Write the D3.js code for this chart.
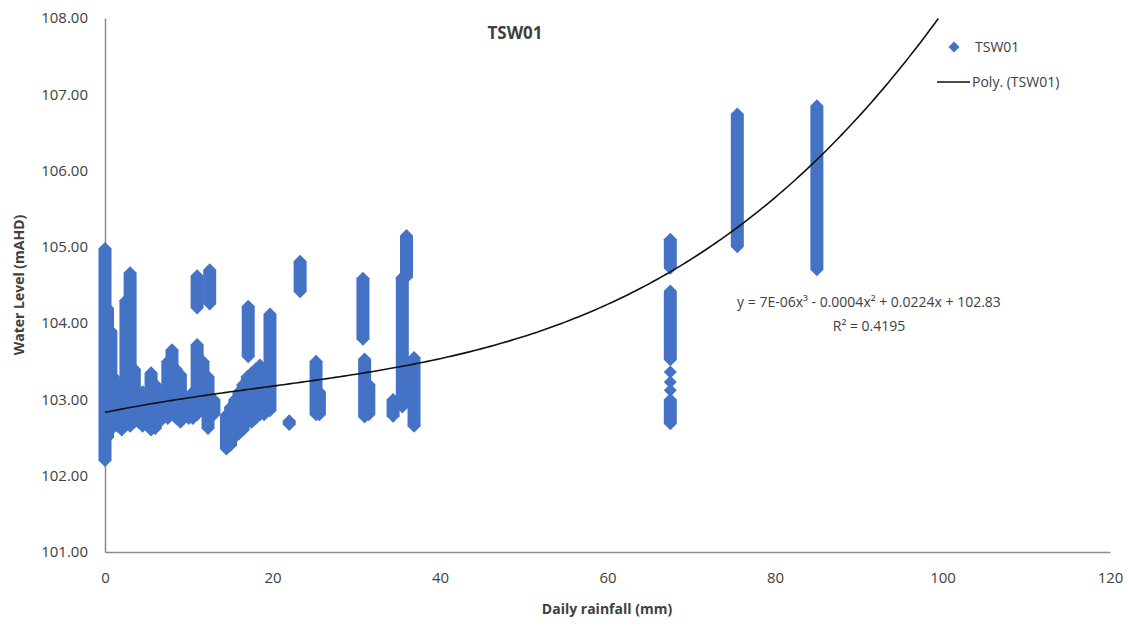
<!DOCTYPE html>
<html>
<head>
<meta charset="utf-8">
<script src="https://cdn.jsdelivr.net/npm/d3@7"></script>
<style>
  body { margin: 0; background: #fff; }
  svg text { font-family: "Open Sans", "Liberation Sans", sans-serif; fill: #404040; }
</style>
</head>
<body>
<div id="chart"></div>
<script>
// Observed runs of water level readings for each daily rainfall value (mm)
// rainfall[i] goes with levelLow[i] .. levelHigh[i] (mAHD)
const rainfall = [
  0.0, 0.3, 0.7, 1.0, 1.5, 2.0, 2.5, 3.0, 3.5, 4.0, 4.5, 5.0, 5.5, 6.0, 6.5,
  7.0, 7.5, 8.0, 8.5, 9.0, 9.5, 10.0, 10.5, 11.0, 11.0, 11.7, 12.3, 12.5, 13.0,
  14.5, 15.0, 15.5, 16.0, 16.5, 17.0, 17.1, 17.5, 18.0, 18.5, 19.0, 19.7,
  22.0, 23.3, 25.2, 25.6,
  30.8, 31.0, 31.5, 34.4, 36.0, 35.5, 36.9,
  67.5, 67.5, 67.5, 67.5, 67.5, 67.5,
  75.5, 85.0
];
const levelLow = [
  102.20, 102.50, 102.60, 102.70, 102.65, 102.60, 102.70, 102.65, 102.70, 102.70, 102.65, 102.70, 102.60, 102.62, 102.70,
  102.80, 102.75, 102.80, 102.75, 102.70, 102.80, 102.75, 102.75, 102.80, 104.20, 102.90, 102.62, 104.25, 102.80,
  102.35, 102.40, 102.50, 102.55, 102.60, 102.70, 103.56, 102.70, 102.75, 102.80, 102.80, 102.85,
  102.67, 104.41, 102.80, 102.80,
  103.79, 102.77, 102.80, 102.78, 104.60, 102.90, 102.65,
  104.72, 103.52, 103.36, 103.23, 103.12, 102.68,
  105.00, 104.70
];
const levelHigh = [
  104.98, 104.20, 103.90, 103.30, 103.20, 103.10, 104.30, 104.66, 103.40, 103.00, 103.10, 103.00, 103.35, 103.20, 103.00,
  103.05, 103.50, 103.65, 103.40, 103.33, 103.00, 102.95, 103.10, 103.72, 104.62, 103.50, 103.30, 104.70, 103.00,
  102.80, 102.90, 103.00, 103.10, 103.20, 103.30, 104.22, 103.35, 103.40, 103.45, 103.40, 104.12,
  102.72, 104.81, 103.50, 103.10,
  104.59, 103.53, 103.20, 103.00, 105.15, 104.60, 103.55,
  105.10, 104.42, 103.36, 103.23, 103.12, 103.00,
  106.74, 106.85
];

// Poly. (TSW01) trendline, order 3: c0 + c1 x + c2 x^2 + c3 x^3
const trendCoef = [102.83, 0.0224, -0.0004, 7e-6];
const equationLines = ["y = 7E-06x\u00b3 - 0.0004x\u00b2 + 0.0224x + 102.83", "R\u00b2 = 0.4195"];

const xTicks = [0, 20, 40, 60, 80, 100, 120];
const yTicks = [101, 102, 103, 104, 105, 106, 107, 108];

const width = 1128;
const height = 630;
const blue = "#4472c4";
const r = 6.5;

const svg = d3.select("#chart")
  .append("svg")
  .attr("width", width)
  .attr("height", height);

const x = d3.scaleLinear().domain([0, 120]).range([105, 1110]);
const y = d3.scaleLinear().domain([101, 108]).range([552, 18]);

// Axes (no tick marks, just the lines and labels)
const xAxis = svg.append("g")
  .attr("transform", `translate(0,${y(101)})`)
  .call(d3.axisBottom(x).tickValues(xTicks).tickSize(0).tickPadding(20).tickFormat(d3.format("d")));
xAxis.select(".domain").attr("stroke", "#8c8c8c").attr("stroke-width", 1.5);
xAxis.selectAll("text").style("font-size", "15px").attr("fill", "#404040");

const yAxis = svg.append("g")
  .attr("transform", `translate(${x(0)},0)`)
  .call(d3.axisLeft(y).tickValues(yTicks).tickSize(0).tickPadding(17).tickFormat(d3.format(".2f")));
yAxis.select(".domain").attr("stroke", "#8c8c8c").attr("stroke-width", 1.5);
yAxis.selectAll("text").style("font-size", "15px").attr("fill", "#404040");

// Scatter runs drawn as stacked diamonds (elongated diamond shape)
const runs = rainfall.map((v, i) => ({ x: v, lo: levelLow[i], hi: levelHigh[i] }));

svg.append("g")
  .selectAll("path")
  .data(runs)
  .enter()
  .append("path")
  .attr("fill", blue)
  .attr("d", d => {
    const cx = x(d.x);
    const top = y(d.hi);
    const bot = y(d.lo);
    return `M${cx},${top - r}L${cx + r},${top}L${cx + r},${bot}L${cx},${bot + r}L${cx - r},${bot}L${cx - r},${top}Z`;
  });

// Trendline
const poly = v => trendCoef[0] + trendCoef[1] * v + trendCoef[2] * v * v + trendCoef[3] * v * v * v;
const trendPts = d3.range(0, 100.01, 0.5).map(v => [v, poly(v)]).filter(p => p[1] <= 108);

svg.append("path")
  .datum(trendPts)
  .attr("fill", "none")
  .attr("stroke", "#111")
  .attr("stroke-width", 1.6)
  .attr("d", d3.line().x(d => x(d[0])).y(d => y(d[1])));

// Equation label
svg.append("g")
  .selectAll("text")
  .data(equationLines)
  .enter()
  .append("text")
  .attr("x", 869)
  .attr("y", (d, i) => 307 + i * 24)
  .attr("text-anchor", "middle")
  .style("font-size", "14px")
  .text(d => d);

// Title
svg.append("text")
  .attr("x", 515)
  .attr("y", 39)
  .attr("text-anchor", "middle")
  .style("font-size", "17px")
  .style("font-weight", "bold")
  .attr("fill", "#111")
  .text("TSW01");

// Axis titles
svg.append("text")
  .attr("x", 607)
  .attr("y", 614)
  .attr("text-anchor", "middle")
  .style("font-size", "14px")
  .style("font-weight", "bold")
  .attr("fill", "#333")
  .text("Daily rainfall (mm)");

svg.append("text")
  .attr("transform", "translate(24,285) rotate(-90)")
  .attr("text-anchor", "middle")
  .style("font-size", "14px")
  .style("font-weight", "bold")
  .attr("fill", "#333")
  .text("Water Level (mAHD)");

// Legend
const legend = svg.append("g");
legend.append("path")
  .attr("d", "M0,-5.5L5.5,0L0,5.5L-5.5,0Z")
  .attr("transform", "translate(954,47)")
  .attr("fill", blue);
legend.append("text")
  .attr("x", 975)
  .attr("y", 52)
  .style("font-size", "14px")
  .text("TSW01");
legend.append("line")
  .attr("x1", 937).attr("x2", 970)
  .attr("y1", 82).attr("y2", 82)
  .attr("stroke", "#111")
  .attr("stroke-width", 1.6);
legend.append("text")
  .attr("x", 972)
  .attr("y", 87)
  .style("font-size", "14px")
  .text("Poly. (TSW01)");
</script>
</body>
</html>
